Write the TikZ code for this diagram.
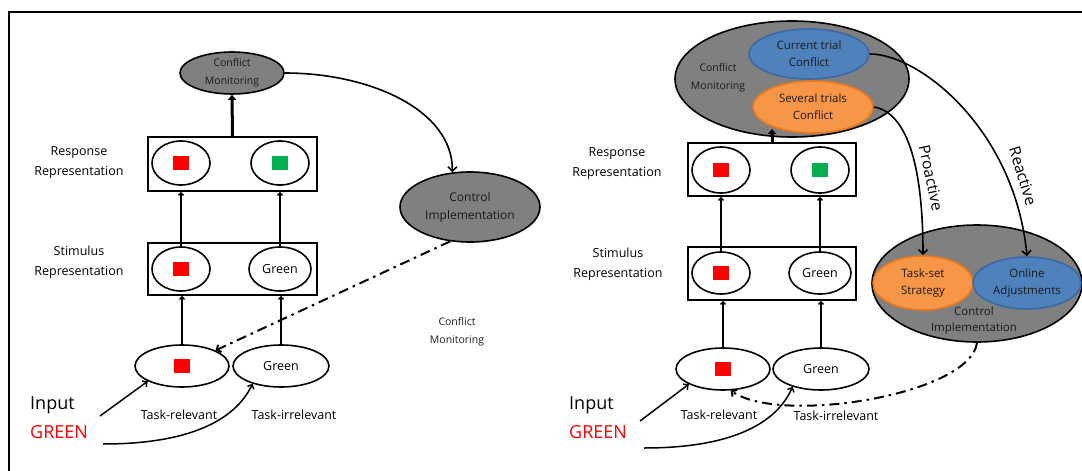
\documentclass[tikz,border=0pt]{standalone}
\usepackage{fontspec}
\setmainfont{Open Sans}
\usetikzlibrary{shapes.geometric,arrows.meta}
\definecolor{cgray}{HTML}{808080}
\definecolor{cblue}{HTML}{4F81BD}
\definecolor{cblueb}{HTML}{3A6AA6}
\definecolor{corange}{HTML}{F79646}
\definecolor{coranb}{HTML}{E9781E}
\definecolor{cred}{HTML}{FF0000}
\definecolor{cgreen}{HTML}{00B050}
\definecolor{ctext}{HTML}{1A1A1A}
\begin{document}
\begin{tikzpicture}[x=1pt,y=-1pt,
  ell/.style={ellipse, draw, line width=1.6pt, inner sep=0pt, align=center},
  box/.style={draw, line width=1.6pt, rectangle, inner sep=0pt},
  lbl/.style={font=\fontsize{12.5}{20}\selectfont, align=center, inner sep=0pt},
  sm/.style={font=\fontsize{10.5}{18}\selectfont, align=center, inner sep=0pt, text=ctext},
  mid/.style={font=\fontsize{11.5}{17}\selectfont, align=center, text=ctext},
  big/.style={font=\fontsize{18}{27}\selectfont, anchor=west, inner sep=0pt},
  sq/.style={minimum width=16pt, minimum height=14pt, inner sep=0pt, draw=none},
  arr/.style={line width=1.4pt, -{Straight Barb[length=2.5pt,width=5pt]}},
  inarr/.style={line width=1.5pt, -{Straight Barb[length=3.5pt,width=7pt]}},
  bigarr/.style={line width=1.6pt, -{Straight Barb[length=4.5pt,width=9pt]}},
  thk/.style={line width=3pt, -{Triangle[length=5pt,width=8pt]}},
  dd/.style={line width=2pt, dash pattern=on 10pt off 5pt on 2.5pt off 5pt, -{Straight Barb[length=3.5pt,width=8pt]}},
  graye/.style={ell, fill=cgray},
  rot/.style={font=\fontsize{15.5}{18}\selectfont, inner sep=0pt}
]
\useasboundingbox (0,0) rectangle (1082,471);
% frame
\draw[line width=2pt] (9,471) -- (9,12) -- (1082,12);

% ================= LEFT PANEL =================
\node[graye, minimum width=104pt, minimum height=42pt, sm] (cmL) at (232,73) {Conflict\\Monitoring};
\node[box, minimum width=169pt, minimum height=54pt] (rboxL) at (232.5,164) {};
\node[ell, minimum width=58pt, minimum height=44pt] (r1L) at (181,163) {};
\node[sq, fill=cred] (qr1L) at (r1L) {};
\node[ell, minimum width=58pt, minimum height=44pt] (r2L) at (280,163) {};
\node[sq, fill=cgreen] (qr2L) at (r2L) {};
\node[lbl] (respL) at (79,163) {Response\\Representation};

\node[box, minimum width=169pt, minimum height=52pt] (sboxL) at (232.5,269) {};
\node[ell, minimum width=58pt, minimum height=44pt] (s1L) at (181,269) {};
\node[sq, fill=cred] (qs1L) at (s1L) {};
\node[ell, minimum width=62pt, minimum height=44pt, lbl] (s2L) at (280,269) {Green};
\node[lbl] (stimL) at (79,262) {Stimulus\\Representation};

\node[ell, minimum width=94pt, minimum height=42pt] (in1L) at (182,366) {};
\node[sq, fill=cred] (qi1L) at (in1L) {};
\node[ell, minimum width=96pt, minimum height=42pt, lbl] (in2L) at (281,366) {Green};
\node[lbl] (trL) at (179,415) {Task-relevant};
\node[lbl] (tiL) at (294,415) {Task-irrelevant};
\node[big] (inpL) at (30,405) {Input};
\node[big, text=cred] (grnL) at (30,432) {GREEN};
\coordinate (inAL) at (100,416);
\coordinate (inBL) at (103,444);

\node[graye, minimum width=140pt, minimum height=70pt, font=\fontsize{12}{18}\selectfont, text=ctext] (ciL) at (470,207) {Control\\Implementation};
\node[sm] (strayL) at (457,332) {Conflict\\Monitoring};

\draw[thk] (rboxL.north) -- (cmL.south);
\draw[arr] (s1L.north) -- (s1L.north |- rboxL.south);
\draw[arr] (s2L.north) -- (s2L.north |- rboxL.south);
\draw[arr] (in1L.north) -- (in1L.north |- sboxL.south);
\draw[arr] (in2L.north) -- (in2L.north |- sboxL.south);
\draw[inarr] (inAL) -- (in1L.204);
\draw[inarr] (inBL) .. controls (190,444) and (235,420) .. (in2L.212);
\draw[bigarr] (cmL.east) .. controls (370,73) and (453,110) .. (ciL.117);
\draw[dd] (ciL.240) -- (in1L);

% ================= RIGHT PANEL =================
\node[graye, minimum width=234pt, minimum height=116pt] (cmR) at (792,79) {};
\node[sm] (cmRt) at (718,78) {Conflict\\Monitoring};
\node[ell, draw=cblueb, fill=cblue, minimum width=120pt, minimum height=50pt, mid] (ctR) at (809,54) {Current trial\\Conflict};
\node[ell, draw=coranb, fill=corange, minimum width=120pt, minimum height=52pt, mid] (stR) at (813,107) {Several trials\\Conflict};
\coordinate (cmRb) at (768,129);

\node[box, minimum width=168pt, minimum height=53pt] (rboxR) at (772,169.5) {};
\node[ell, minimum width=58pt, minimum height=46pt] (r1R) at (721,170) {};
\node[sq, fill=cred] (qr1R) at (r1R) {};
\node[ell, minimum width=58pt, minimum height=46pt] (r2R) at (820,170) {};
\node[sq, fill=cgreen] (qr2R) at (r2R) {};
\node[lbl] (respR) at (617,164) {Response\\Representation};

\node[box, minimum width=168pt, minimum height=53pt] (sboxR) at (772,273.5) {};
\node[ell, minimum width=58pt, minimum height=42pt] (s1R) at (721,273) {};
\node[sq, fill=cred] (qs1R) at (s1R) {};
\node[ell, minimum width=62pt, minimum height=42pt, lbl] (s2R) at (820,273) {Green};
\node[lbl] (stimR) at (618,264) {Stimulus\\Representation};

\node[ell, minimum width=94pt, minimum height=42pt] (in1R) at (723,369) {};
\node[sq, fill=cred] (qi1R) at (in1R) {};
\node[ell, minimum width=96pt, minimum height=42pt, lbl] (in2R) at (821,369) {Green};
\node[lbl] (trR) at (719,415) {Task-relevant};
\node[lbl] (tiR) at (836,416) {Task-irrelevant};
\node[big] (inpR) at (569,405) {Input};
\node[big, text=cred] (grnR) at (569,432) {GREEN};
\coordinate (inAR) at (640,421);
\coordinate (inBR) at (644,448);

\node[graye, minimum width=210pt, minimum height=117pt] (ciR) at (977,283.5) {};
\node[ell, draw=coranb, fill=corange, minimum width=100pt, minimum height=54pt, mid] (tsR) at (923,283) {Task-set\\Strategy};
\node[ell, draw=cblueb, fill=cblue, minimum width=108pt, minimum height=52pt, mid] (oaR) at (1027,283) {Online\\Adjustments};
\node[mid, inner sep=0pt, font=\fontsize{11.5}{16}\selectfont] (ciRt) at (974,321) {Control\\Implementation};

\node[rot, rotate=-78] (proL) at (931,178) {Proactive};
\node[rot, rotate=-73] (reaL) at (1023,176) {Reactive};

\draw[thk] (rboxR.north) -- (rboxR.north |- cmRb);
\draw[arr] (s1R.north) -- (s1R.north |- rboxR.south);
\draw[arr] (s2R.north) -- (s2R.north |- rboxR.south);
\draw[arr] (in1R.north) -- (in1R.north |- sboxR.south);
\draw[arr] (in2R.north) -- (in2R.north |- sboxR.south);
\draw[inarr] (inAR) -- (in1R.204);
\draw[inarr] (inBR) .. controls (731,448) and (776,424) .. (in2R.212);
\draw[bigarr] (stR.east) .. controls (905,112) and (923,160) .. (tsR.north);
\draw[bigarr] (ctR.east) .. controls (920,54) and (1015,130) .. (oaR.north);
\draw[dd] (ciR.south) .. controls (970,395) and (780,425) .. (in1R.290);
\end{tikzpicture}
\end{document}
